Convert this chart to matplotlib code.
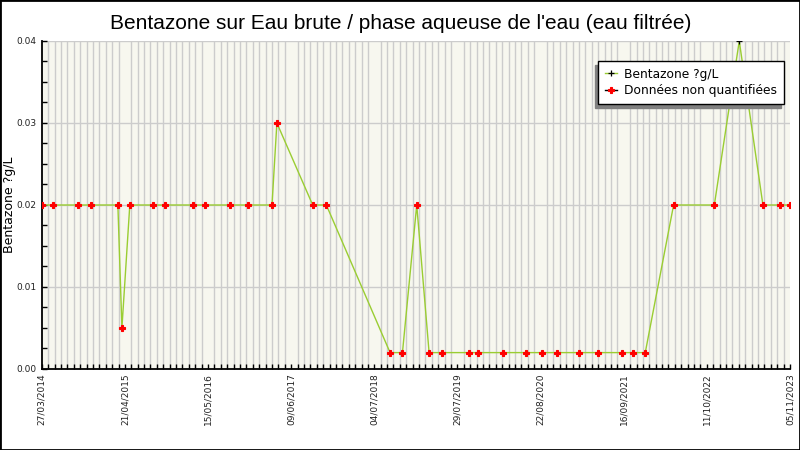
import matplotlib
matplotlib.use("Agg")
import matplotlib.pyplot as plt
import matplotlib.dates as mdates
from matplotlib.lines import Line2D
from matplotlib.patches import Rectangle
from matplotlib.ticker import MultipleLocator, FixedLocator, FuncFormatter
import datetime as dt
import numpy as np

# ---------------- data ----------------
dates = [
    "2014-03-27", "2014-05-18", "2014-09-12", "2014-11-12", "2015-03-19",
    "2015-04-07", "2015-05-14", "2015-08-30", "2015-10-25", "2016-03-05",
    "2016-04-30", "2016-08-26", "2016-11-18", "2017-03-11", "2017-04-03",
    "2017-09-18", "2017-11-21", "2018-09-16", "2018-11-13", "2019-01-19",
    "2019-03-18", "2019-05-18", "2019-09-22", "2019-11-03", "2020-02-28",
    "2020-06-15", "2020-08-29", "2020-11-08", "2021-02-19", "2021-05-19",
    "2021-09-09", "2021-10-31", "2021-12-26", "2022-05-08", "2022-11-15",
    "2023-03-12", "2023-07-01", "2023-09-20", "2023-11-05",
]
values = [
    0.02, 0.02, 0.02, 0.02, 0.02,
    0.005, 0.02, 0.02, 0.02, 0.02,
    0.02, 0.02, 0.02, 0.02, 0.03,
    0.02, 0.02, 0.002, 0.002, 0.02,
    0.002, 0.002, 0.002, 0.002, 0.002,
    0.002, 0.002, 0.002, 0.002, 0.002,
    0.002, 0.002, 0.002, 0.02, 0.02,
    0.04, 0.02, 0.02, 0.02,
]
quantified = [
    False, False, False, False, False,
    False, False, False, False, False,
    False, False, False, False, False,
    False, False, False, False, False,
    False, False, False, False, False,
    False, False, False, False, False,
    False, False, False, False, False,
    True, False, False, False,
]
title = "Bentazone sur Eau brute / phase aqueuse de l'eau (eau filtrée)"
ylabel = "Bentazone ?g/L"
legend_labels = ["Bentazone ?g/L", "Données non quantifiées"]
y_major = [0.00, 0.01, 0.02, 0.03, 0.04]

# ---------------- figure ----------------
line_color = "#9acd32"
fig = plt.figure(figsize=(8, 4.5), dpi=100)
fig.patch.set_facecolor("white")
ax = fig.add_axes([0.0522, 0.18, 0.9353, 0.7289])
ax.set_facecolor("#f7f7ef")

x = np.array([mdates.date2num(dt.date.fromisoformat(d)) for d in dates])
y = np.array(values)
q = np.array(quantified)

ax.plot(x, y, color=line_color, lw=1.0, zorder=3)
ax.plot(x[~q], y[~q], ls="none", marker="P", ms=4.6, mfc="red", mec="red",
        mew=0.8, zorder=4)
ax.plot(x[q], y[q], ls="none", marker="+", ms=4, color="black", mew=0.9,
        zorder=5)

# axes limits
ax.set_xlim(x[0], x[-1])
ax.set_ylim(0, 0.04)

# x ticks: labels every 390 days from first date, minor every 30 days
start = x[0]
end = x[-1]
major_ticks = np.arange(start, end + 1, 390)
minor_ticks = np.arange(start, end + 1, 30)
ax.xaxis.set_major_locator(FixedLocator(major_ticks))
ax.xaxis.set_minor_locator(FixedLocator(minor_ticks))
ax.xaxis.set_major_formatter(FuncFormatter(
    lambda v, p: mdates.num2date(v).strftime("%d/%m/%Y")))

ax.yaxis.set_major_locator(FixedLocator(y_major))
ax.yaxis.set_minor_locator(MultipleLocator(0.0025))
ax.yaxis.set_major_formatter(FuncFormatter(lambda v, p: f"{v:.2f}"))

ax.tick_params(axis="both", which="both", direction="in", length=3.6,
               width=1, color="black", labelsize=6.5, labelcolor="#222222")
ax.tick_params(axis="x", which="major", pad=3, labelrotation=90)
ax.tick_params(axis="y", which="major", pad=4)

for lab in ax.get_xticklabels():
    lab.set_verticalalignment("top")

# grids
ax.grid(False)
ax.xaxis.grid(True, which="minor", color="#cccccc", lw=1.0, zorder=0)
ax.yaxis.grid(True, which="major", color="#cccccc", lw=1.0, zorder=0)
ax.set_axisbelow(True)

for s in ["top", "right"]:
    ax.spines[s].set_visible(False)
for s in ["left", "bottom"]:
    ax.spines[s].set_color("black")
    ax.spines[s].set_linewidth(1.3)

ax.set_ylabel(ylabel, fontsize=9, color="black")
ax.yaxis.set_label_coords(-0.0345, 0.5)

# title
fig.text(0.501, 1 - 29 / 450, title, ha="center", va="baseline",
         fontsize=15, family=["Liberation Sans", "DejaVu Sans"],
         color="black")

# legend (proxy handles for legend keys)
h1 = Line2D([], [], color=line_color, lw=1, marker="+", ms=4, mec="black",
            mew=0.9)
h2 = Line2D([], [], color="black", lw=1, marker="P", ms=4.6, mfc="red",
            mec="red", mew=0.8)
leg = ax.legend([h1, h2], legend_labels, loc="upper right",
                bbox_to_anchor=(0.992, 0.939), borderaxespad=0,
                fontsize=8.8, frameon=True, fancybox=False, framealpha=1,
                edgecolor="black", facecolor="white", handlelength=1.0,
                handletextpad=0.6, labelspacing=0.3, borderpad=0.55,
                shadow={"ox": -2.2, "oy": -2.9, "facecolor": "0.5",
                        "edgecolor": "0.5", "alpha": 1})
leg.get_frame().set_linewidth(1.0)
leg.set_zorder(10)

# figure border
fig.patches.append(Rectangle((0, 0), 1, 1, transform=fig.transFigure,
                             fill=False, edgecolor="black", lw=2.0))

fig.savefig("out.png", dpi=100)
